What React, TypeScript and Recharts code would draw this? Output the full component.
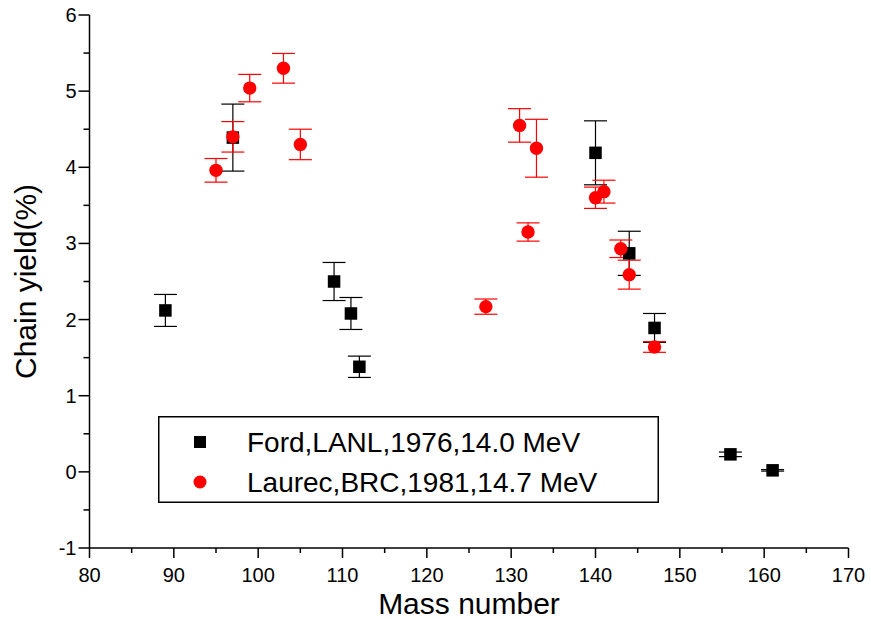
import { ErrorBar, Legend, Scatter, ScatterChart, XAxis, YAxis } from "recharts";

const fordMass = [89, 97, 109, 111, 112, 140, 144, 147, 156, 161];
const fordYield = [2.12, 4.39, 2.5, 2.08, 1.38, 4.19, 2.87, 1.89, 0.23, 0.02];
const fordErr = [0.21, 0.44, 0.25, 0.21, 0.14, 0.42, 0.29, 0.19, 0.03, 0.01];

const laurecMass = [95, 97, 99, 103, 105, 127, 131, 132, 133, 140, 141, 143, 144, 147];
const laurecYield = [3.96, 4.4, 5.04, 5.3, 4.3, 2.17, 4.55, 3.15, 4.25, 3.6, 3.68, 2.93, 2.59, 1.64];
const laurecErr = [0.155, 0.2, 0.18, 0.195, 0.2, 0.1, 0.22, 0.12, 0.38, 0.14, 0.15, 0.115, 0.19, 0.07];

const xTicks = [80, 85, 90, 95, 100, 105, 110, 115, 120, 125, 130, 135, 140, 145, 150, 155, 160, 165, 170];
const yTicks = [-1, -0.5, 0, 0.5, 1, 1.5, 2, 2.5, 3, 3.5, 4, 4.5, 5, 5.5, 6];

const FONT = "'Liberation Sans', Arial, sans-serif";

const ford = fordMass.map((m, i) => ({ mass: m, yld: fordYield[i], err: fordErr[i] }));
const laurec = laurecMass.map((m, i) => ({ mass: m, yld: laurecYield[i], err: laurecErr[i] }));

function XTick({ x, y, payload }: any) {
  const major = payload.value % 10 === 0;
  return (
    <g>
      <line x1={x} y1={y} x2={x} y2={y + (major ? 10 : 5)} stroke="#000" strokeWidth={1.5} />
      {major && (
        <text x={x} y={y + 34} textAnchor="middle" fontSize={20} fontFamily={FONT} fill="#000">
          {payload.value}
        </text>
      )}
    </g>
  );
}

function YTick({ x, y, payload }: any) {
  const major = Number.isInteger(payload.value);
  return (
    <g>
      <line x1={x} y1={y} x2={x - (major ? 11 : 6)} y2={y} stroke="#000" strokeWidth={1.5} />
      {major && (
        <text x={x - 13} y={y + 7} textAnchor="end" fontSize={20} fontFamily={FONT} fill="#000">
          {payload.value}
        </text>
      )}
    </g>
  );
}

const Square = ({ cx, cy }: any) => <rect x={cx - 6.25} y={cy - 6.25} width={12.5} height={12.5} fill="#000" />;
const Dot = ({ cx, cy }: any) => <circle cx={cx} cy={cy} r={6.7} fill="#FF0000" />;

function LegendBox({ payload }: any) {
  const items = payload?.length
    ? payload
    : [
        { value: "Ford,LANL,1976,14.0 MeV", color: "#000" },
        { value: "Laurec,BRC,1981,14.7 MeV", color: "#FF0000" },
      ];
  return (
    <svg width={501} height={87} style={{ display: "block" }}>
      <rect x={0.75} y={0.75} width={499.5} height={85.5} fill="#fff" stroke="#000" strokeWidth={1.5} />
      {items.map((it: any, i: number) => {
        const cy = 26 + i * 40;
        const red = i === 1;
        return (
          <g key={i}>
            {red ? (
              <circle cx={42} cy={cy} r={6.5} fill="#FF0000" />
            ) : (
              <rect x={36} y={cy - 6} width={12} height={12} fill="#000" />
            )}
            <text x={89} y={cy + 10} fontSize={28} fontFamily={FONT} fill="#000">
              {it.value}
            </text>
          </g>
        );
      })}
    </svg>
  );
}

export default function App() {
  return (
    <div style={{ position: "absolute", left: 0, top: 0, background: "#fff" }}>
      <ScatterChart width={871} height={619} margin={{ top: 15, right: 22.5, bottom: 0, left: 0 }}>
        <XAxis
          type="number"
          dataKey="mass"
          domain={[80, 170]}
          ticks={xTicks}
          interval={0}
          height={71}
          tickSize={0}
          tickMargin={0}
          tickLine={false}
          tick={<XTick />}
          axisLine={{ stroke: "#000", strokeWidth: 1.5 }}
          label={{ value: "Mass number", position: "insideBottom", offset: 5, fontSize: 30, fontFamily: FONT, fill: "#000" }}
        />
        <YAxis
          type="number"
          dataKey="yld"
          domain={[-1, 6]}
          ticks={yTicks}
          interval={0}
          width={89.5}
          tickSize={0}
          tickMargin={0}
          tickLine={false}
          tick={<YTick />}
          axisLine={{ stroke: "#000", strokeWidth: 1.5 }}
          label={{
            value: "Chain yield(%)",
            angle: -90,
            position: "insideLeft",
            offset: 25,
            fontSize: 30,
            fontFamily: FONT,
            fill: "#000",
            style: { textAnchor: "middle" },
          }}
        />
        <Legend
          layout="vertical"
          align="center"
          verticalAlign="middle"
          content={<LegendBox />}
          wrapperStyle={{ left: 158, top: 416, width: 501, height: 87 }}
        />
        <Scatter name="Ford,LANL,1976,14.0 MeV" data={ford} fill="#000" shape={<Square />} isAnimationActive={false}>
          <ErrorBar dataKey="err" direction="y" width={11.5} stroke="#000" strokeWidth={1.2} />
        </Scatter>
        <Scatter name="Laurec,BRC,1981,14.7 MeV" data={laurec} fill="#FF0000" shape={<Dot />} isAnimationActive={false}>
          <ErrorBar dataKey="err" direction="y" width={11.5} stroke="#FF0000" strokeWidth={1.2} />
        </Scatter>
      </ScatterChart>
    </div>
  );
}
